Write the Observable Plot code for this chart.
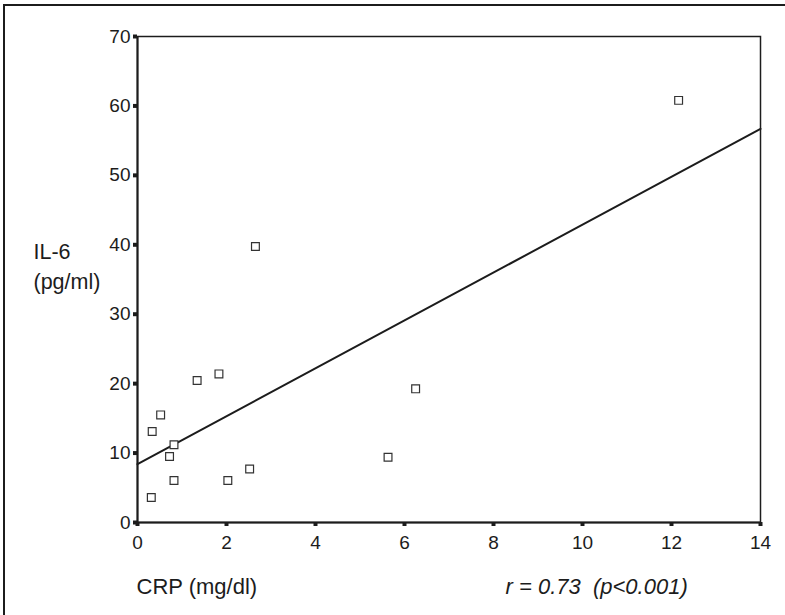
<!DOCTYPE html>
<html><head><meta charset="utf-8">
<script src="https://cdn.jsdelivr.net/npm/d3@7"></script>
<script src="https://cdn.jsdelivr.net/npm/@observablehq/plot@0.6"></script>
<style>
body{margin:0;background:#fff;}
#wrap{position:relative;width:785px;height:615px;overflow:hidden;background:#fff;}
#wrap svg{position:absolute;left:0;top:0;display:block;}
#border{position:absolute;left:3px;top:4px;right:-10px;bottom:-10px;border-top:2px solid #1c1c1c;border-left:2px solid #1c1c1c;pointer-events:none;}
</style></head><body>
<div id="wrap"></div>
<script>
// Data
const crp = [0.31, 0.33, 0.52, 0.72, 0.82, 0.82, 1.34, 1.83, 2.03, 2.52, 2.65, 5.63, 6.25, 12.16];
const il6 = [3.6, 13.1, 15.5, 9.5, 11.2, 6.05, 20.45, 21.4, 6.05, 7.7, 39.75, 9.4, 19.25, 60.8];
const xTicks = [0, 2, 4, 6, 8, 10, 12, 14];
const yTicks = [0, 10, 20, 30, 40, 50, 60, 70];
const fitIntercept = 8.4;
const fitSlope = 3.45;
const xLabel = "CRP (mg/dl)";
const yLabel = "IL-6\n(pg/ml)";
const statLabel = "r = 0.73 \u00a0(p<0.001)";

const points = crp.map((x, i) => ({x, y: il6[i]}));
const xDomain = [xTicks[0], xTicks[xTicks.length - 1]];
const yDomain = [yTicks[0], yTicks[yTicks.length - 1]];
const fit = xDomain.map(x => ({x, y: fitIntercept + fitSlope * x}));

const ink = "#1c1c1c";
const tickFont = 19;
const chart = Plot.plot({
  width: 785,
  height: 615,
  marginLeft: 137,
  marginRight: 25,
  marginTop: 36,
  marginBottom: 93,
  style: {fontFamily: "'Liberation Sans', Arial, Helvetica, sans-serif", fontSize: "19px", color: ink, background: "transparent"},
  x: {domain: xDomain},
  y: {domain: yDomain},
  marks: [
    Plot.frame({stroke: ink, strokeWidth: 1.5}),
    Plot.ruleX([xDomain[0]], {stroke: ink, strokeWidth: 2}),
    Plot.ruleY([yDomain[0]], {stroke: ink, strokeWidth: 2}),
    Plot.axisY({ticks: yTicks, tickSize: 4, tickPadding: 3, strokeWidth: 4, stroke: ink, fill: ink, fontSize: tickFont, label: null}),
    Plot.axisX({ticks: xTicks, tickSize: 4, tickPadding: 9, strokeWidth: 4, stroke: ink, fill: ink, fontSize: tickFont, label: null}),
    Plot.line(fit, {x: "x", y: "y", stroke: ink, strokeWidth: 2}),
    Plot.dot(points, {x: "x", y: "y", symbol: "square", r: 4.4, stroke: "#333", strokeWidth: 1.2, fill: "white"}),
    Plot.text([xLabel], {text: d => d, frameAnchor: "bottom-left", textAnchor: "start", lineAnchor: "bottom", dx: -1, dy: 71.5, fontSize: 22, fill: ink}),
    Plot.text([statLabel], {text: d => d, frameAnchor: "bottom-left", textAnchor: "start", lineAnchor: "bottom", dx: 368, dy: 71, fontSize: 22, fontStyle: "italic", fill: ink}),
    Plot.text([yLabel], {text: d => d, frameAnchor: "left", textAnchor: "start", lineAnchor: "bottom", lineHeight: 1.35, dx: -104, dy: 9, fontSize: 21.5, fill: ink})
  ]
});
// enforce tick label size directly on numeric tick texts
d3.select(chart).selectAll("text")
  .filter(function() { return /^\d+$/.test(this.textContent.trim()); })
  .attr("font-size", tickFont).style("font-size", tickFont + "px");
const wrap = document.getElementById("wrap");
wrap.appendChild(chart);
const border = document.createElement("div");
border.id = "border";
wrap.appendChild(border);
</script>
</body></html>
